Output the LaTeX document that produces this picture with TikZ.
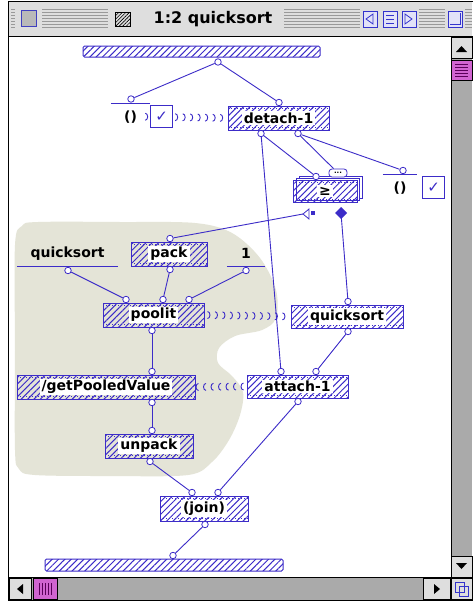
\documentclass[tikz,border=0pt]{standalone}
\usepackage{fontspec}
\setsansfont{DejaVu Sans}
\usetikzlibrary{positioning,
	patterns.meta,
	decorations.markings}
\definecolor{pgblue}{RGB}{60,44,200}
\definecolor{pool}{RGB}{228,228,215}
\definecolor{chrome}{RGB}{222,222,222}
\definecolor{track}{RGB}{170,170,170}
\definecolor{thumb}{RGB}{208,100,208}
\definecolor{btn}{RGB}{226,226,248}
\newcommand{\opfont}{\sffamily\bfseries\fontsize{14}{16}\selectfont}
\tikzstyle{wire}=[draw=pgblue, line width=0.9pt]
\tikzstyle{term}=[circle, draw=pgblue, fill=white, line width=0.8pt, minimum size=6.5pt, inner sep=0]
\tikzstyle{op}=[draw=pgblue, line width=1pt, minimum height=24pt, inner sep=0,
	pattern={Lines[angle=45,distance=4.5pt,line width=1pt]}, pattern color=pgblue,
	path picture={\draw[pgblue, line width=0.6pt, dash pattern=on 1pt off 2pt]
		([yshift=-2.5pt]path picture bounding box.north west) -- ([yshift=-2.5pt]path picture bounding box.north east)
		([yshift=2.5pt]path picture bounding box.south west) -- ([yshift=2.5pt]path picture bounding box.south east);}]
\tikzstyle{oplbl}=[fill=white, inner xsep=2pt, inner ysep=1.5pt, font=\opfont, text=black]
\tikzstyle{bar}=[draw=pgblue, line width=1pt, rounded corners=1.5pt, minimum height=11pt, inner sep=0,
	pattern={Lines[angle=45,distance=4.5pt,line width=1pt]}, pattern color=pgblue]
\tikzstyle{match}=[anchor=north, minimum height=27pt, inner sep=0, font=\opfont,
	append after command={(\tikzlastnode.north west) edge[pgblue, line width=1pt] (\tikzlastnode.north east)}]
\tikzstyle{const}=[anchor=south, minimum height=24pt, inner sep=0, font=\opfont,
	append after command={(\tikzlastnode.south west) edge[pgblue, line width=1pt] (\tikzlastnode.south east)}]
\tikzstyle{chk}=[draw=pgblue, line width=1pt, fill=white, minimum width=22pt, minimum height=22pt, inner sep=0,
	text=pgblue, font=\sffamily\fontsize{15}{15}\selectfont]
\tikzstyle{synchro}=[postaction={decorate}, decoration={markings,
	mark=between positions 3pt and -1pt step 7.5pt with {\draw[pgblue, line width=0.9pt]
		(0pt,-3.5pt) arc[start angle=-90, end angle=90, x radius=2.5pt, y radius=3.5pt];}}]

\begin{document}
\begin{tikzpicture}[x=1pt,y=-1pt]
\useasboundingbox (0,0) rectangle (472,605);
\fill[white] (0,0) rectangle (472,605);

% title bar
\fill[chrome] (8.5,1) rectangle (472,36);
\foreach \y in {9,12,...,27} \draw[gray!80, line width=0.8pt] (11,\y) -- (472,\y);
\fill[chrome] (15,5) rectangle (42,31);
\fill[chrome] (108,5) rectangle (284,32);
\foreach \x in {363,383,402,448} \fill[chrome] (\x-3,7) rectangle (\x+17,30);
\draw[draw=gray!50!blue, fill=gray!55] (21,10) rectangle (36,26);
\draw[black, pattern={Lines[angle=45,distance=2.5pt,line width=0.6pt]}] (115,12) rectangle (130,26);
\node[font=\sffamily\bfseries\fontsize{16}{18}\selectfont] (title) at (213,19) {1:2 quicksort};
\foreach \x in {363,383,402,448} \draw[draw=gray!40!blue, fill=btn] (\x,11) rectangle (\x+14,27);
\draw[gray!40!blue, line width=0.8pt] (373,14) -- (366,19) -- (373,24) -- cycle;
\foreach \y in {15,19,23} \draw[gray!40!blue, line width=0.8pt] (386,\y) -- (394,\y);
\draw[gray!40!blue, line width=0.8pt] (405,14) -- (412,19) -- (405,24) -- cycle;
\draw[gray!40!blue, line width=0.8pt] (450,24) -- (460,24) -- (460,13);

% content and frame
\fill[white] (9,36) rectangle (451,577);
\fill[track] (451,36) rectangle (472,577);
\draw[fill=chrome] (451.5,37) rectangle (472,58);
\fill (456,52) -- (467,52) -- (461.5,46) -- cycle;
\draw[fill=thumb] (451.5,60) rectangle (472,80);
\foreach \y in {64,67,...,76} \draw[violet!70!black] (455,\y) -- (468,\y);
\draw[fill=chrome] (451.5,556) rectangle (472,577);
\fill (456,563) -- (467,563) -- (461.5,569) -- cycle;
\fill[track] (9,577.5) rectangle (451,599.5);
\draw[fill=chrome] (9,578) rectangle (31,599);
\fill (17,589) -- (23,584) -- (23,594) -- cycle;
\draw[fill=thumb] (33,578) rectangle (57,599);
\foreach \x in {39,42,...,51} \draw[violet!70!black] (\x,583) -- (\x,595);
\draw[fill=chrome] (423,578) rectangle (450,599);
\fill (434,584) -- (440,589) -- (434,594) -- cycle;
\draw[fill=chrome] (451.5,578) rectangle (472,599);
\draw[gray!40!blue] (455,582) rectangle (464,592) (459,586) rectangle (468,596);
\draw[line width=1pt] (8.5,1) rectangle (473,600);
\draw[line width=1pt] (8.5,36) -- (473,36);
\draw[line width=1pt] (451,36) -- (451,600);
\draw[line width=1pt] (8.5,577.5) -- (473,577.5);

% pool region
\fill[pool] plot[smooth cycle, tension=0.55] coordinates {(15,245) (22,226) (38,222) (120,222)
	(195,223) (232,233) (260,258) (276,290) (276,318) (262,330) (235,336) (219,348) (218,363)
	(232,376) (243,392) (240,415) (229,440) (212,462) (188,475) (110,476) (35,475) (19,469)
	(15,450) (15,350)};

% operations
\node[bar, minimum width=237pt] (inbar) at (201.5,51.5) {};
\node[term] (inroot) at (218,62) {};
\node[match, minimum width=39pt] (matchc) at (130.5,103) {()};
\node[term] (mtop) at (131,99) {};
\node[op, minimum width=101pt, label={[oplbl]center:detach-1}] (detach) at (278.5,118) {};
\node[term] (dtop) at (279,102.5) {};
\node[term] (dbl) at (261,133.5) {};
\node[term] (dbr) at (298,133.5) {};
% stacked look of the list op
\draw[pgblue, line width=1pt, fill=white] (299,176.5) rectangle (362,198.5);
\draw[pgblue, line width=1pt, fill=white] (296,178.5) rectangle (359.5,200.5);
\node[op, minimum width=64pt, minimum height=22pt, label={[oplbl]center:≥}] (ge) at (325,191) {};
\node[term] (getop) at (316,176.5) {};
\node[draw=pgblue, fill=white, line width=0.8pt, rounded corners=3pt, minimum width=18pt, minimum height=8pt,
	inner sep=0, font=\sffamily\bfseries\fontsize{7}{7}\selectfont] (gelist) at (338,173) {...};
\coordinate (geL) at (303,214);
\coordinate (geR) at (341,213);
\node[match, minimum width=34pt] (rmatch) at (400,174) {()};
\node[term] (rtop) at (403,170.5) {};
\node[chk, right=5pt of rmatch] (chk2) {✓};

\node[const, minimum width=101pt] (qsc) at (67.5,266) {quicksort};
\node[term] (qsroot) at (68,270.5) {};
\node[op, minimum width=76pt, label={[oplbl]center:pack}] (pack) at (169,254) {};
\node[term] (packtop) at (170,238.5) {};
\node[term] (packbot) at (170,269.5) {};
\node[const, minimum width=38pt] (one) at (246,266) {1};
\node[term] (oneroot) at (246,270.5) {};
\node[op, minimum width=101pt, label={[oplbl]center:poolit}] (poolit) at (153.5,315) {};
\node[term] (pl1) at (126,299.5) {};
\node[term] (pl2) at (163,299.5) {};
\node[term] (pl3) at (189,299.5) {};
\node[term] (plbot) at (152,330.5) {};
\node[op, minimum width=112pt, minimum height=23pt, label={[oplbl]center:quicksort}] (qs) at (347,316.5) {};
\node[term] (qstop) at (348,301.5) {};
\node[term] (qsbot) at (348,331.5) {};
\node[op, minimum width=178pt, label={[oplbl]center:/getPooledValue}] (gpv) at (106,387) {};
\node[term] (gtop) at (152,371.5) {};
\node[term] (gbot) at (152,402.5) {};
\node[op, minimum width=101pt, minimum height=23pt, label={[oplbl]center:attach-1}] (attach) at (297.5,386.5) {};
\node[term] (atl) at (281,371.5) {};
\node[term] (atr) at (316,371.5) {};
\node[term] (abot) at (298,401.5) {};
\node[op, minimum width=88pt, label={[oplbl]center:unpack}] (unpack) at (149,446) {};
\node[term] (utop) at (152,430.5) {};
\node[term] (ubot) at (150,461.5) {};
\node[op, minimum width=88pt, minimum height=25pt, label={[oplbl]center:(join)}] (join) at (204,508.5) {};
\node[term] (jl) at (192,492.5) {};
\node[term] (jr) at (218,492.5) {};
\node[term] (jbot) at (205,524.5) {};
\node[bar, minimum width=238pt, minimum height=12pt] (outbar) at (164,565) {};
\node[term] (outt) at (173,555.5) {};

% datalinks
\draw[wire] (inroot) -- (mtop);
\draw[wire] (inroot) -- (dtop);
\draw[wire] (dbl) -- (getop);
\draw[wire] (dbl) -- (atl);
\draw[wire] (dbr) -- (gelist);
\draw[wire] (dbr) -- (rtop);
\draw[wire] (geL) -- (packtop);
\draw[wire] (geR) -- (qstop);
\draw[wire] (qsroot) -- (pl1);
\draw[wire] (packbot) -- (pl2);
\draw[wire] (oneroot) -- (pl3);
\draw[wire] (plbot) -- (gtop);
\draw[wire] (qsbot) -- (atr);
\draw[wire] (gbot) -- (utop);
\draw[wire] (ubot) -- (jl);
\draw[wire] (abot) -- (jr);
\draw[wire] (jbot) -- (outt);

% synchros
\path[synchro] ([xshift=-8pt]matchc.east) -- (detach.west);
\path[synchro] (poolit.east) -- (qs.west);
\path[synchro] (attach.west) -- (gpv.east);
\node[chk, right=0pt of matchc] (chk1) {✓};

% controls
\draw[pgblue, line width=0.8pt, fill=white] (geL) -- ++(6,-5) -- ++(0,10) -- cycle;
\fill[pgblue] (311,210.5) rectangle (315,214.5);
\fill[pgblue] (geR) ++(-6,0) -- ++(6,-6) -- ++(6,6) -- ++(-6,6) -- cycle;
\end{tikzpicture}
\end{document}
